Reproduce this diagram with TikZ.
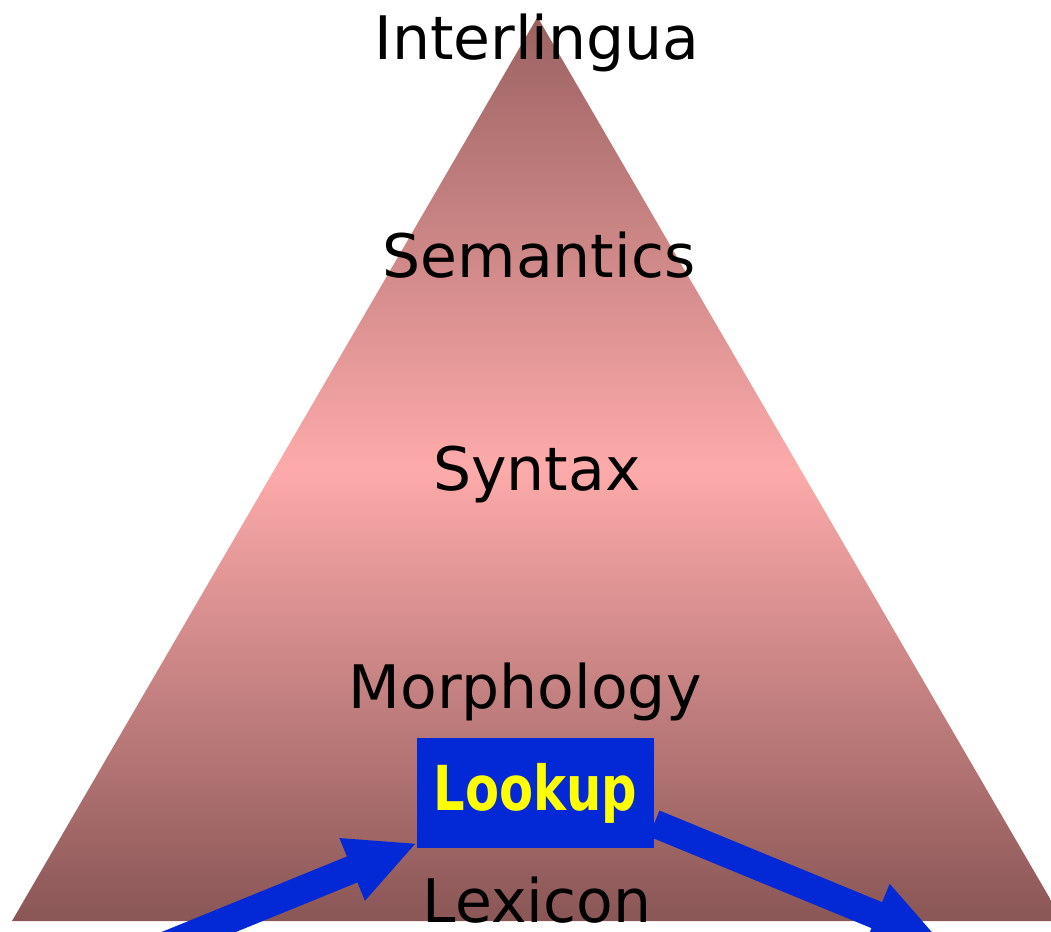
\documentclass[tikz,border=0pt]{standalone}
\usepackage{fontspec}
\setmainfont{DejaVu Sans}
\usetikzlibrary{arrows.meta}
\definecolor{pyrtop}{RGB}{155,98,98}
\definecolor{pyrmid}{RGB}{253,170,170}
\definecolor{pyrbot}{RGB}{138,86,86}
\definecolor{lookblue}{RGB}{3,40,214}
\definecolor{lookyellow}{RGB}{255,255,0}
\tikzset{
  level/.style={anchor=base, inner sep=0pt, font=\fontsize{60}{60}\selectfont, text=black},
  lookbox/.style={fill=lookblue, minimum width=237pt, minimum height=110pt, inner sep=0pt,
    text=lookyellow, font=\fontsize{62}{62}\selectfont\bfseries},
  bigarrow/.style={draw=lookblue, line width=28pt,
    -{Triangle[length=70pt, width=62pt]}}
}
\begin{document}
\begin{tikzpicture}[x=1pt, y=-1pt]
  \useasboundingbox (0,0) rectangle (1051,931);
  \clip (0,0) rectangle (1051,931);
  % shaded pyramid of analysis levels
  \path[top color=pyrtop, bottom color=pyrbot, middle color=pyrmid]
    (537.5,17) -- (1063,921) -- (12,921) -- cycle;
  % level labels
  \node[level] (inter) at (537,60) {Interlingua};
  \node[level] (sem) at (539,277) {Semantics};
  \node[level] (syn) at (537,490) {Syntax};
  \node[level] (morph) at (525,708) {Morphology};
  \node[level] (lex) at (537,922) {Lexicon};
  % arrows into and out of the lookup step
  \coordinate (inS) at (130,960);
  \coordinate (inT) at (417,843);
  \coordinate (outT) at (941.5,941.8);
  \draw[bigarrow] (inS) -- (inT);
  \node[lookbox] (look) at (535.5,793) {\raisebox{-4pt}{\scalebox{0.8}[1]{Lookup}}};
  \draw[bigarrow] (look.east |- 0,823.5) -- (outT);
\end{tikzpicture}
\end{document}
